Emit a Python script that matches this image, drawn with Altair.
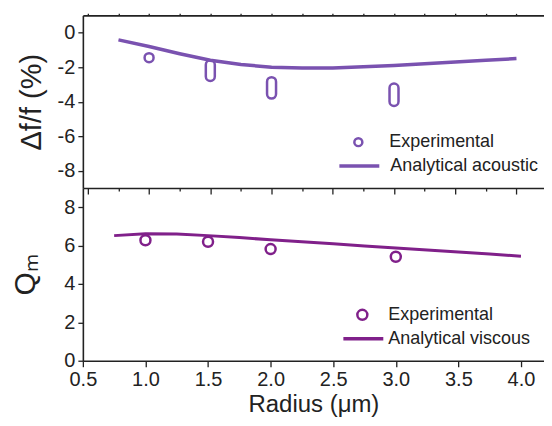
import altair as alt
import pandas as pd

# ---- data ----
radius_exp = [1.0, 1.5, 2.0, 3.0]
df_exp = [-1.45, -2.2, -3.2, -3.6]
df_err = [0.26, 0.6, 0.62, 0.65]

radius_line = [0.75, 1.0, 1.25, 1.5, 1.75, 2.0, 2.25, 2.5, 2.75, 3.0, 3.25, 3.5, 3.75, 4.0]
df_line = [-0.42, -0.8, -1.22, -1.6, -1.85, -2.0, -2.05, -2.05, -1.98, -1.9, -1.8, -1.7, -1.6, -1.5]

q_exp = [6.28, 6.2, 5.82, 5.42]
q_line = [6.52, 6.62, 6.6, 6.52, 6.42, 6.3, 6.2, 6.1, 5.98, 5.87, 5.77, 5.67, 5.56, 5.45]

x_ticks = [0.5, 0.75, 1.0, 1.25, 1.5, 1.75, 2.0, 2.25, 2.5, 2.75, 3.0, 3.25, 3.5, 3.75, 4.0]
y_ticks_top = [-8, -7, -6, -5, -4, -3, -2, -1, 0]
y_ticks_bot = [0, 1, 2, 3, 4, 5, 6, 7, 8]

C_TOP = "#7a52b0"
C_BOT = "#80208a"
FONT = "Liberation Sans"
INK = "#222222"

top_exp = pd.DataFrame({"r": radius_exp, "v": df_exp, "err": df_err, "series": "Experimental"})
top_line = pd.DataFrame({"r": radius_line, "v": df_line, "series": "Analytical acoustic"})
bot_exp = pd.DataFrame({"r": radius_exp, "v": q_exp, "series": "Experimental"})
bot_line = pd.DataFrame({"r": radius_line, "v": q_line, "series": "Analytical viscous"})

W, H = 462, 173
xscale = alt.Scale(domain=[0.5, 4.184], nice=False, zero=False)

x_major = "round(datum.value*4) % 2 == 0"
y_major = "datum.value % 2 == 0"
x_ticksize = {"condition": {"test": x_major, "value": 6}, "value": 3}
y_ticksize = {"condition": {"test": y_major, "value": 5}, "value": 3}

LEG = dict(title=None, orient="none", labelFont=FONT, labelFontSize=18, labelColor=INK)


def circle_legend(color, lx, ly, size, laboff):
    return alt.Legend(legendX=lx, legendY=ly, symbolType="circle", symbolSize=size,
                      labelOffset=laboff, symbolStrokeColor=color, symbolFillColor="transparent",
                      symbolStrokeWidth=2.5, **LEG)


def line_legend(lx, ly, laboff):
    return alt.Legend(legendX=lx, legendY=ly, symbolType="stroke", symbolSize=1600,
                      labelOffset=laboff, symbolStrokeWidth=3.5, **LEG)


# ---- top panel ----
ytop = alt.Scale(domain=[-9, 1], nice=False, zero=False)

top_l = alt.Chart(top_line).mark_line(strokeWidth=3.5).encode(
    x=alt.X("r:Q", scale=xscale, axis=alt.Axis(values=x_ticks, labels=False, title=None,
                                               tickSize=x_ticksize, grid=False)),
    y=alt.Y("v:Q", scale=ytop, axis=alt.Axis(
        values=y_ticks_top, tickSize=y_ticksize, grid=False, labelPadding=3,
        labelExpr=f"{y_major} ? '' + datum.value : ''", labelOverlap=False,
        title="Δf/f (%)", titleFontSize=29, titleX=-36)),
    stroke=alt.Stroke("series:N", scale=alt.Scale(domain=["Analytical acoustic"], range=[C_TOP]),
                      legend=line_legend(255, 129, 9)),
)
top_e = alt.Chart(top_exp).transform_calculate(
    lo="datum.v - datum.err", hi="datum.v + datum.err"
).mark_bar(width=9, cornerRadius=4.5, fill="transparent", stroke=C_TOP, strokeWidth=2.5).encode(
    x=alt.X("r:Q", scale=xscale, axis=alt.Axis(orient="top", values=x_ticks, labels=False,
                                               title=None, tickSize=2, grid=False)),
    y=alt.Y("lo:Q", scale=ytop),
    y2="hi:Q",
    opacity=alt.Opacity("series:N", scale=alt.Scale(domain=["Experimental"], range=[1]),
                        legend=circle_legend(C_TOP, 267, 118, 64, 22)),
)
top = alt.layer(top_l, top_e).resolve_axis(x="independent").properties(width=W, height=H)

# ---- bottom panel ----
ybot = alt.Scale(domain=[0, 9], nice=False, zero=False)

bot_l = alt.Chart(bot_line).mark_line(strokeWidth=3).encode(
    x=alt.X("r:Q", scale=xscale, axis=alt.Axis(
        values=x_ticks, tickSize=x_ticksize, grid=False, labelFlush=False, labelOverlap=False,
        labelExpr=f"{x_major} ? format(datum.value, '.1f') : ''", labelPadding=3,
        title="Radius (μm)", titleFontSize=24, titlePadding=3)),
    y=alt.Y("v:Q", scale=ybot, axis=alt.Axis(
        values=y_ticks_bot, tickSize=y_ticksize, grid=False, labelPadding=3,
        labelExpr=f"{y_major} ? '' + datum.value : ''", labelOverlap=False,
        title="Qₘ", titleFontSize=30, titleX=-42)),
    stroke=alt.Stroke("series:N", scale=alt.Scale(domain=["Analytical viscous"], range=[C_BOT]),
                      legend=line_legend(259, 129, 3)),
)
bot_e = alt.Chart(bot_exp).mark_point(size=100, strokeWidth=2.5, filled=False, opacity=1,
                                      color=C_BOT).encode(
    x=alt.X("r:Q", scale=xscale),
    y=alt.Y("v:Q", scale=ybot),
    shape=alt.Shape("series:N", scale=alt.Scale(domain=["Experimental"], range=["circle"]),
                    legend=circle_legend(C_BOT, 271, 118, 100, 17)),
)
bottom = alt.layer(bot_l, bot_e).properties(width=W, height=H)

chart = alt.vconcat(top, bottom, spacing=0, bounds="flush").resolve_scale(
    stroke="independent", shape="independent", opacity="independent"
).properties(
    padding={"left": 3, "top": 4, "right": 0, "bottom": 0}
).configure_view(stroke=None).configure_axis(
    labelFont=FONT, titleFont=FONT, labelFontSize=20, labelColor=INK, titleColor=INK,
    titleFontWeight="normal", domainColor=INK, tickColor=INK, domainWidth=1.6, tickWidth=1.3,
)

chart.save("out.html", embed_options={"renderer": "svg", "actions": False})
